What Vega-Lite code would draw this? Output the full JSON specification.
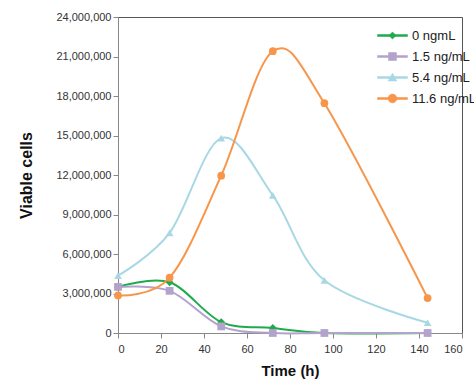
{
  "$schema": "https://vega.github.io/schema/vega-lite/v6.json",
  "width": 344,
  "height": 316,
  "autosize": "none",
  "padding": {"left": 118, "top": 17, "right": 12, "bottom": 51},
  "background": "white",
  "config": {
    "view": {"stroke": "#555", "strokeWidth": 1},
    "axis": {"grid": false, "labelFont": "Liberation Sans", "labelFontSize": 11, "labelColor": "#333", "domainColor": "#888", "tickColor": "#888", "tickSize": 5, "titleFont": "Liberation Sans", "titleColor": "#111"}
  },
  "data": {"values": [
    {"t": 0, "v": 3500000, "s": "0 ngmL", "m": "A"},
    {"t": 24, "v": 3850000, "s": "0 ngmL", "m": "A"},
    {"t": 48, "v": 830000, "s": "0 ngmL", "m": "A"},
    {"t": 72, "v": 380000, "s": "0 ngmL", "m": "A"},
    {"t": 96, "v": 0, "s": "0 ngmL", "m": "A"},
    {"t": 144, "v": 0, "s": "0 ngmL", "m": "A"},
    {"t": 0, "v": 3500000, "s": "1.5 ng/mL", "m": "B"},
    {"t": 24, "v": 3200000, "s": "1.5 ng/mL", "m": "B"},
    {"t": 48, "v": 500000, "s": "1.5 ng/mL", "m": "B"},
    {"t": 72, "v": 0, "s": "1.5 ng/mL", "m": "B"},
    {"t": 96, "v": 0, "s": "1.5 ng/mL", "m": "B"},
    {"t": 144, "v": 0, "s": "1.5 ng/mL", "m": "B"},
    {"t": 0, "v": 4350000, "s": "5.4 ng/mL", "m": "C"},
    {"t": 24, "v": 7600000, "s": "5.4 ng/mL", "m": "C"},
    {"t": 48, "v": 14800000, "s": "5.4 ng/mL", "m": "C"},
    {"t": 72, "v": 10450000, "s": "5.4 ng/mL", "m": "C"},
    {"t": 96, "v": 4000000, "s": "5.4 ng/mL", "m": "C"},
    {"t": 144, "v": 780000, "s": "5.4 ng/mL", "m": "C"},
    {"t": 0, "v": 2850000, "s": "11.6 ng/mL", "m": "D"},
    {"t": 24, "v": 4200000, "s": "11.6 ng/mL", "m": "D"},
    {"t": 48, "v": 11950000, "s": "11.6 ng/mL", "m": "D"},
    {"t": 72, "v": 21400000, "s": "11.6 ng/mL", "m": "D"},
    {"t": 96, "v": 17450000, "s": "11.6 ng/mL", "m": "D"},
    {"t": 144, "v": 2650000, "s": "11.6 ng/mL", "m": "D"}
  ]},
  "encoding": {
    "x": {"field": "t", "type": "quantitative", "scale": {"domain": [0, 160], "nice": false},
      "axis": {"values": [0, 20, 40, 60, 80, 100, 120, 140, 160], "title": "Time (h)", "titleFontSize": 15, "titleFontWeight": "bold", "titlePadding": 9, "labelPadding": 5}},
    "y": {"field": "v", "type": "quantitative", "scale": {"domain": [0, 24000000], "nice": false},
      "axis": {"values": [0, 3000000, 6000000, 9000000, 12000000, 15000000, 18000000, 21000000, 24000000], "format": ",d", "title": "Viable  cells", "titleFontSize": 16, "titleFontWeight": "bold", "titleX": -92, "titleY": 158, "titleAlign": "center", "titleBaseline": "middle", "titleAngle": -90}},
    "color": {"field": "s", "type": "nominal",
      "scale": {"domain": ["0 ngmL", "1.5 ng/mL", "5.4 ng/mL", "11.6 ng/mL"], "range": ["#1faa4c", "#b3a3cc", "#a8d8e4", "#f7964a"]},
      "legend": {"orient": "none", "legendX": 268, "legendY": 12, "title": null, "symbolSize": 64, "labelOffset": 13, "padding": 0, "rowPadding": 7, "labelFontSize": 13, "labelFont": "Liberation Sans", "labelColor": "#222",
        "encode": {"symbols": {"update": {"shape": {"signal": "datum.value === '0 ngmL' ? 'M-3.75,-0.25H3.75V0.25H-3.75Z M0,-0.9L0.9,0L0,0.9L-0.9,0Z' : datum.value === '1.5 ng/mL' ? 'M-3.75,-0.25H3.75V0.25H-3.75Z M-1,-1H1V1H-1Z' : datum.value === '5.4 ng/mL' ? 'M-3.75,-0.25H3.75V0.25H-3.75Z M0,-1.1L1.1,0.9H-1.1Z' : 'M-3.75,-0.25H3.75V0.25H-3.75Z M-1.1,0A1.1,1.1 0 1,1 1.1,0A1.1,1.1 0 1,1 -1.1,0Z'"}, "fill": {"scale": "color", "field": "value"}, "strokeWidth": {"value": 0.5}, "size": {"value": 64}}}}}}
  },
  "layer": [
    {"mark": {"type": "line", "interpolate": "cardinal", "strokeWidth": 2}},
    {"mark": {"type": "point", "filled": true, "opacity": 1},
      "encoding": {
        "shape": {"field": "m", "type": "nominal", "legend": null,
          "scale": {"domain": ["A", "B", "C", "D"], "range": ["diamond", "square", "triangle-up", "circle"]}},
        "size": {"value": 60}}
    }
  ]
}
